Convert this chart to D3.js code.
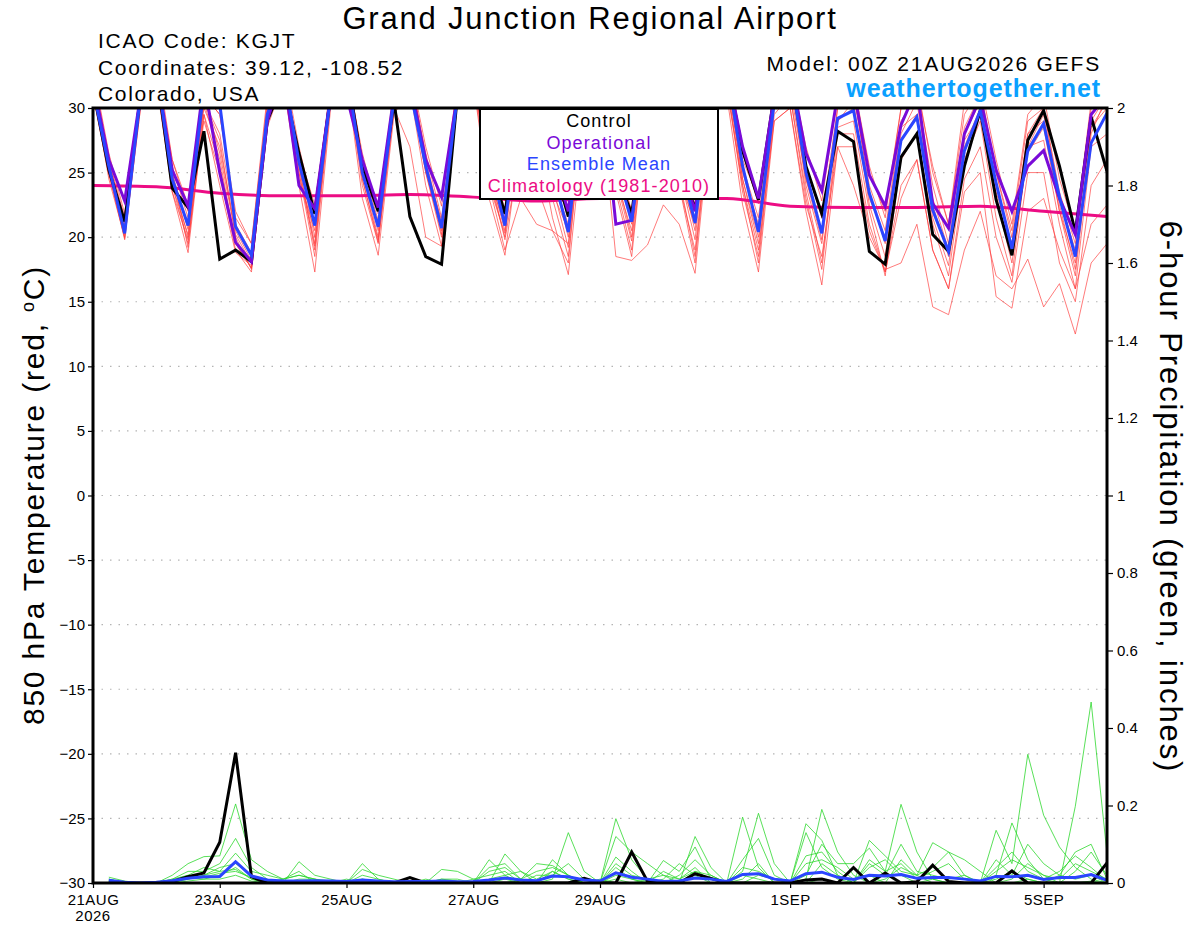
<!DOCTYPE html>
<html>
<head>
<meta charset="utf-8">
<script src="https://cdn.jsdelivr.net/npm/d3@7/dist/d3.min.js"></script>
<style>
  body { margin: 0; background: #fff; }
  svg text { font-family: "Liberation Sans", Arial, Helvetica, sans-serif; }
</style>
</head>
<body>
<svg id="chart"></svg>
<script>
// 6-hourly steps from 00Z 21AUG2026 (index 0) to 00Z 6SEP2026 (index 64)
const dayTickIdx = [0, 8, 16, 24, 32, 44, 52, 60];
const dayTickLabels = ["21AUG", "23AUG", "25AUG", "27AUG", "29AUG", "1SEP", "3SEP", "5SEP"];
const tempTicks = [-30, -25, -20, -15, -10, -5, 0, 5, 10, 15, 20, 25, 30];
const precipTicks = [0, 0.2, 0.4, 0.6, 0.8, 1, 1.2, 1.4, 1.6, 1.8, 2];

// 850 hPa temperature (C), index 0..64
const controlT = [31.5, 25.2, 21.2, 31, 33, 23.8, 22.3, 28.2, 18.3, 19.0, 18.1, 29.0,
  32, 26.5, 21.8, 31, 33, 25.5, 22.0, 30.5, 21.6, 18.5, 17.9, 31,
  33, 26, 21.8, 30.5, 27, 26, 21.6, 32, 33, 25, 21.8, 31,
  33, 26, 22.1, 31, 33, 26.7, 22.9, 31, 33, 25.5, 21.8, 28.2,
  27.4, 18.9, 17.9, 26.2, 28.0, 20.2, 18.9, 25.5, 29.8, 22.9, 18.6, 27.5,
  29.8, 25.5, 20.4, 29.3, 25.1];
const operT = [32, 26, 22.8, 31, 33, 25.2, 22.4, 32, 25, 19.6, 18.1, 29,
  33, 24.0, 22.2, 31, 31, 26, 22.3, 31, 32, 26, 23.1, 31,
  33, 27, 23.5, 31, 28, 26, 22, 32, 33, 21.0, 21.3, 31,
  32, 26, 22, 31, 33, 27, 23, 31, 33, 26.5, 23.6, 31,
  31.5, 24.8, 22.4, 28.7, 31.5, 22.6, 20.7, 28, 30.8, 25.2, 22.0, 25.5,
  26.7, 23.0, 20.2, 29.5, 31];
const meanT = [31.5, 25.5, 20.3, 31, 33, 24.5, 20.9, 31.5, 30.3, 20.8, 18.6, 29.5,
  33, 25.8, 20.9, 31, 33, 25.0, 20.8, 30.8, 31.5, 25.5, 20.7, 31,
  33, 26, 20.9, 31, 27.5, 25, 20.4, 31.5, 33, 25.5, 21.2, 31,
  32, 26, 21.1, 30.5, 33, 25.5, 20.4, 30.5, 33, 25.0, 20.3, 29.2,
  29.8, 23.4, 19.7, 27.5, 29.3, 22.1, 18.9, 26.7, 29.8, 24.2, 19.1, 26.7,
  28.8, 23.1, 18.5, 27.3, 29.6];

// ensemble members (red)
const memberT1 = [32,25,19.8,30.5, 33,24,20.2,30, 27,20.5,18.2,29, 32.5,25.5,19.5,31, 33,24.5,19.8,30, 32,25,20,31, 33,24,20.3,30, 31,24,19.2,31, 33,24.5,20.5,30.5, 32,25,19.8,31, 33,24.5,19.5,30.5, 32.5,24,19.5,29, 30.5,22.5,18.5,27.5, 29.5,21.5,17.8,27, 30,23,18,26.5, 28.5,22,17,28, 31];
const memberT2 = [33,26.5,21.8,31.5, 34,26,22.5,31, 29.5,22,19.5,30.5, 33.5,27,21.8,32, 33,26.5,21.8,31, 33,27,22.4,32, 34,26,22.2,31, 32.5,27,21.8,32, 34,26.5,22,31.5, 33,27,22.3,32, 33.5,26.5,22.6,31.5, 33,27,22.8,31, 32,25.5,21.5,30, 32,25,21,30.5, 32,26,21,29.5, 31,24.5,20.5,30.5, 32];
const memberT3 = [31.5,24.5,20,30, 32,23.5,19.8,29, 25,19,17.3,28.5, 32,24,17.3,30, 32.5,23,18.6,29.5, 31.5,24,19.3,30.5, 32,23,18.6,28, 28,21.5,17.1,29, 31,18.5,18.2,19.4, 22.5,21,17.2,29.5, 31,22.5,17.3,29, 30,22,16.3,27, 27,20.5,17.3,23, 26,19,16,23.5, 25,15.4,14.5,22, 23,19,16,21, 22.5];
const memberT4 = [32.5,25.5,20.5,31, 32.5,25,19.2,30.5, 26,19.5,17.6,29.5, 33,26,20,31, 32,25.5,20.5,30.5, 33,26,21,31.5, 32.5,25,19.8,27, 24,20.5,18,31, 32,24,19,30, 32,24.5,18.5,30, 32,23.5,18.5,30, 31,23,17.5,28, 28,21,17.3,24, 26,19,16,24.5, 27,20,16.5,25, 25,18,15,24, 26];
const memberT5 = [32,26,21,31, 33,25.5,21.5,30.5, 28,21,18.8,30, 32.5,26.5,21,31.5, 33,25.5,21.3,31, 32.5,26.5,21.5,31, 33,25.5,21.5,30.5, 30,24.5,21,31.5, 33,26,21.5,31, 32.5,25.5,21.5,31, 33,25.5,21.5,31, 32,25.5,21.5,30, 31,24,20.5,29, 31,24,19.5,28.5, 31,25,20,28, 30,23,19,29, 31];
const memberT6 = [31,24.8,20.5,30.5, 32.5,23.5,18.8,29.5, 24,18.8,17.8,29, 32,25,18.5,30.5, 32.5,24,19.5,30, 27,20,19.3,30.5, 32,24,19,23, 21,20.5,19.5,30.5, 32.5,23.5,18.5,30, 31.5,24,18,30, 31.5,24,18,29.5, 31,23.5,18,28.5, 29,22,17,26, 28,21,17,26, 29,21.5,17,27, 27.5,21,16,27, 28];
const memberT7 = [32.5,25.8,20.8,31.5, 33.5,24.5,20,30.5, 27.5,20,17.5,30, 33,25.5,19,31, 32.5,25,20,31, 33,25.5,20.2,30.5, 33,25,20.5,30.5, 31.5,25,20,32, 32.5,25,20,31, 33,25.5,20.5,31.5, 32.5,24.5,20,30, 33,24.5,19.8,30, 31.5,23.5,19.5,28, 30.5,22.5,18.5,28, 30.5,24,18.8,27, 29.5,22.5,17.5,28.5, 30.5];
const memberT8 = [31,25.2,20.2,31, 32,25,20.6,31, 26.5,20.2,18,29.5, 32,24.5,20.5,30.5, 33,25,21,31.5, 32.5,25.5,21.3,31, 32.5,24.5,21,31, 30.5,23.5,20.5,31, 33,25.5,21,30.5, 32,24.5,21,30.5, 32.5,25,21,30.5, 31.5,24.5,20.5,29, 30,23,20,28.5, 29.5,23,19,27.5, 29.5,23.5,19.5,28, 29,22,18,28.5, 30];
const memberT9 = [32,25,19.9,30, 32,24,19.5,29.5, 25.5,19.5,17.6,29.5, 32.5,25,19.3,30.5, 32,24.5,19.6,30, 32,25,20.5,30.5, 32.5,24.5,20,29.5, 30,23,18.5,30.5, 32,24.5,19.7,30, 32,24,19,30, 32,24,19,29, 30,22.5,18.5,27, 24,20,17.5,18, 21,14.6,14,19, 22,17,16,18.3, 14.6,16.4,12.5,18, 19.5];
const memberT10 = [33,26,21.5,31.5, 33,26,22,31, 29.5,21.5,19.5,31, 33,26.5,22.5,31.5, 33.5,26,22.2,31.5, 33,26,23,31.5, 33,26,22.8,31, 32,26,22,31.5, 33.5,26,22,31, 33,26.5,22.5,31.5, 33,26,23,31, 33,26.5,23.5,31, 32,25,22,30, 31.5,25.5,21,29.5, 31.5,25,20.5,29, 30,23.5,19.5,30, 31];

// climatology (1981-2010), one value per day at 00Z
const climT = [24.0, 23.9, 23.4, 23.2, 23.2, 23.3, 23.1, 22.8, 23.0, 23.0, 23.0, 22.4, 22.3, 22.3, 22.4, 22.0, 21.6];

// 6-hour precipitation (inches), index 1..64
const controlP = [0, 0, 0, 0, 0.004, 0.016, 0.026, 0.105, 0.336, 0.016, 0, 0, 0, 0, 0, 0,
  0, 0, 0, 0.014, 0, 0, 0, 0, 0, 0, 0, 0, 0, 0, 0.012, 0,
  0, 0.08, 0.004, 0, 0, 0.024, 0.012, 0, 0, 0, 0, 0, 0.008, 0.01, 0, 0.04,
  0, 0.026, 0, 0.003, 0.046, 0.004, 0, 0, 0, 0.031, 0, 0, 0, 0, 0, 0.052];
const meanP = [0.007, 0.002, 0, 0.002, 0.006, 0.012, 0.016, 0.017, 0.055, 0.018, 0.008, 0.005, 0.005, 0.006, 0.005, 0.004,
  0.008, 0.005, 0.003, 0.004, 0.004, 0.005, 0.003, 0.004, 0.008, 0.013, 0.008, 0.006, 0.018, 0.016, 0.008, 0.005,
  0.026, 0.015, 0.01, 0.004, 0.005, 0.013, 0.01, 0.004, 0.022, 0.024, 0.01, 0.005, 0.024, 0.028, 0.015, 0.009,
  0.02, 0.018, 0.022, 0.012, 0.014, 0.014, 0.01, 0.005, 0.017, 0.016, 0.02, 0.009, 0.014, 0.014, 0.022, 0.007];

// ensemble members (green)
const memberP1 = [0.015,0.005,0,0,0.02,0.05,0.068,0.07, 0.204,0.06,0.03,0.01,0.02,0.01,0,0, 0,0,0,0,0,0,0,0, 0.06,0.02,0,0,0.01,0.13,0.03,0, 0.166,0.06,0.01,0,0,0.03,0.01,0, 0,0.02,0.01,0,0.01,0.19,0.08,0.02, 0,0.01,0.04,0.02,0,0,0,0, 0.136,0.05,0.332,0.175,0.093,0.04,0.01,0];
const memberP2 = [0.01,0,0,0,0.01,0.03,0.03,0.05, 0.115,0.04,0.01,0,0.055,0.02,0.01,0, 0.05,0.01,0,0,0,0.035,0.03,0.01, 0,0.075,0.03,0,0.06,0.02,0,0, 0.12,0.08,0.05,0.02,0,0.12,0.04,0, 0.17,0.04,0,0,0.153,0.11,0.02,0, 0.11,0.07,0.03,0.02,0.104,0.08,0.06,0.03, 0,0.01,0.05,0.02,0,0.198,0.467,0.076];
const memberP3 = [0.008,0,0,0,0.005,0.02,0.04,0.03, 0.077,0.03,0.02,0.01,0.03,0,0,0, 0.035,0.02,0.01,0,0,0.01,0.01,0, 0.03,0.04,0.01,0.05,0.045,0.02,0,0, 0.067,0.03,0,0.058,0.03,0.093,0.01,0, 0.03,0.18,0.05,0,0.02,0.1,0.05,0.05, 0.09,0.03,0.203,0.08,0.01,0,0,0, 0.02,0.155,0.06,0.01,0,0.03,0.08,0.02];
const memberP4 = [0.005,0,0,0,0,0.01,0.02,0.04, 0.05,0.02,0.005,0,0.01,0.01,0.005,0, 0.01,0.005,0,0,0.01,0,0,0, 0.01,0.02,0.03,0.01,0.03,0.01,0,0, 0.04,0.01,0,0.01,0.05,0.02,0,0, 0.06,0.115,0.02,0,0.13,0.04,0.01,0, 0.05,0.02,0.1,0.03,0.02,0.01,0.02,0, 0.06,0.02,0.1,0.05,0.02,0.08,0.1,0.01];
const memberP5 = [0.01,0,0,0,0,0.015,0.01,0.02, 0.04,0.01,0,0,0,0,0,0.01, 0,0,0,0,0,0,0,0, 0,0.01,0,0.02,0.02,0.05,0.01,0, 0.02,0.01,0,0,0.02,0.06,0.02,0, 0.01,0.05,0,0,0.05,0.06,0.04,0.01, 0.02,0,0.06,0.02,0.04,0.08,0.02,0, 0.01,0.03,0.01,0,0.02,0.01,0.02,0];
const memberP6 = [0.005,0,0,0,0.01,0.02,0.015,0.025, 0.03,0.015,0.005,0,0.005,0,0,0, 0.02,0.01,0,0,0,0,0,0, 0,0,0.01,0,0,0,0,0.01, 0,0,0.01,0,0,0,0,0, 0,0,0,0,0,0.01,0,0, 0,0,0,0,0,0,0,0, 0,0,0.01,0,0,0,0.005,0];
const memberP7 = [0.004,0,0,0,0,0.005,0.01,0.01, 0.02,0.005,0,0,0,0,0,0, 0,0,0,0,0,0,0,0.01, 0.02,0.03,0,0,0.03,0.01,0,0, 0.01,0,0,0.03,0.01,0.04,0,0, 0.02,0.01,0,0,0,0.05,0.02,0, 0.04,0.06,0.02,0,0.01,0,0,0, 0.03,0.06,0.04,0.02,0.01,0.05,0.03,0.01];
const memberP8 = [0.006,0,0,0,0.005,0.01,0.02,0.03, 0.035,0.01,0,0.01,0.02,0.01,0,0, 0.01,0,0,0,0,0.01,0.005,0, 0.04,0.05,0.01,0.03,0.04,0.02,0,0, 0.05,0.02,0.01,0.02,0.01,0.03,0.02,0, 0.04,0.03,0.01,0,0.07,0.08,0.03,0, 0.06,0.03,0.05,0.01,0.03,0.05,0.01,0, 0.04,0.08,0.03,0.01,0.03,0.07,0.04,0.005];

const membersT = [memberT1, memberT2, memberT3, memberT4, memberT5, memberT6, memberT7, memberT8, memberT9, memberT10];
const membersP = [memberP1, memberP2, memberP3, memberP4, memberP5, memberP6, memberP7, memberP8];

// Set up SVG dimensions
const width = 1200;
const height = 927;
const plot = { left: 93, right: 1107, top: 108, bottom: 883 };

const svg = d3.select("#chart")
    .attr("width", width)
    .attr("height", height);

const x = d3.scaleLinear().domain([0, 64]).range([plot.left, plot.right]);
const yT = d3.scaleLinear().domain([-30, 30]).range([plot.bottom, plot.top]);
const yP = d3.scaleLinear().domain([0, 2]).range([plot.bottom, plot.top]);

svg.append("defs").append("clipPath").attr("id", "plotclip")
  .append("rect")
    .attr("x", plot.left)
    .attr("y", plot.top)
    .attr("width", plot.right - plot.left)
    .attr("height", plot.bottom - plot.top);

// dotted grid at every temperature tick
svg.append("g")
  .selectAll("line")
  .data(tempTicks.slice(1, -1))
  .enter().append("line")
    .attr("x1", plot.left)
    .attr("x2", plot.right)
    .attr("y1", d => yT(d))
    .attr("y2", d => yT(d))
    .attr("stroke", "#b4b4b4")
    .attr("stroke-width", 1.2)
    .attr("stroke-dasharray", "1.5,7");

const lines = svg.append("g").attr("clip-path", "url(#plotclip)");

const lineT = d3.line().x((d, i) => x(i)).y(d => yT(d));
const lineP = d3.line().x((d, i) => x(i + 1)).y(d => yP(d));
const lineClim = d3.line().x((d, i) => x(i * 4)).y(d => yT(d)).curve(d3.curveMonotoneX);

// ensemble members
lines.selectAll(".memT")
  .data(membersT)
  .enter().append("path")
    .attr("class", "memT")
    .attr("d", lineT)
    .attr("fill", "none")
    .attr("stroke", "#ff3b3b")
    .attr("stroke-opacity", 0.85)
    .attr("stroke-width", 0.8);

lines.selectAll(".memP")
  .data(membersP)
  .enter().append("path")
    .attr("class", "memP")
    .attr("d", lineP)
    .attr("fill", "none")
    .attr("stroke", "#2fd82f")
    .attr("stroke-width", 0.8);

// climatology
lines.append("path")
    .attr("d", lineClim(climT))
    .attr("fill", "none")
    .attr("stroke", "#ec0c84")
    .attr("stroke-width", 3);

// precipitation control and mean
lines.append("path")
    .attr("d", lineP(controlP))
    .attr("fill", "none")
    .attr("stroke", "#000")
    .attr("stroke-width", 3);
lines.append("path")
    .attr("d", lineP(meanP))
    .attr("fill", "none")
    .attr("stroke", "#2b45ff")
    .attr("stroke-width", 3);

// temperature control, operational, mean
[[controlT, "#000"], [operT, "#7a0ad8"], [meanT, "#2b45ff"]].forEach(([arr, col]) => {
  lines.append("path")
      .attr("d", lineT(arr))
      .attr("fill", "none")
      .attr("stroke", col)
      .attr("stroke-width", 3)
      .attr("stroke-linejoin", "miter");
});

// axes
const axisLeft = d3.axisLeft(yT).tickValues(tempTicks).tickSize(5).tickPadding(3);
const axisRight = d3.axisRight(yP).tickValues(precipTicks).tickSize(6).tickPadding(4)
    .tickFormat(d => d3.format("~g")(d));
const axisBottom = d3.axisBottom(x).tickValues(dayTickIdx).tickSize(5).tickPadding(6)
    .tickFormat((d, i) => dayTickLabels[i]);

function styleAxis(g) {
  g.select(".domain").remove();
  g.selectAll(".tick line").attr("stroke", "#000").attr("stroke-width", 1.2);
  g.selectAll(".tick text")
    .attr("fill", "#000")
    .style("font-size", "15px");
}

svg.append("g").attr("transform", `translate(${plot.left},0)`).call(axisLeft).call(styleAxis);
svg.append("g").attr("transform", `translate(${plot.right},0)`).call(axisRight).call(styleAxis);
const gx = svg.append("g").attr("transform", `translate(0,${plot.bottom})`).call(axisBottom).call(styleAxis);
gx.selectAll(".tick text").style("font-size", "15px").style("letter-spacing", "0.5px");

svg.append("text")
    .attr("x", x(0))
    .attr("y", 921)
    .attr("text-anchor", "middle")
    .style("font-size", "15px")
    .style("letter-spacing", "0.5px")
    .text("2026");

// plot frame
svg.append("rect")
    .attr("x", plot.left)
    .attr("y", plot.top)
    .attr("width", plot.right - plot.left)
    .attr("height", plot.bottom - plot.top)
    .attr("fill", "none")
    .attr("stroke", "#000")
    .attr("stroke-width", 3);

// legend
const legend = svg.append("g");
legend.append("rect")
    .attr("x", 480)
    .attr("y", 109)
    .attr("width", 238)
    .attr("height", 90)
    .attr("fill", "#fff")
    .attr("stroke", "#000")
    .attr("stroke-width", 2);
const legendItems = [
  ["Control", "#000"],
  ["Operational", "#7a0ad8"],
  ["Ensemble Mean", "#2b45ff"],
  ["Climatology (1981-2010)", "#ec0c84"]
];
legend.selectAll("text")
  .data(legendItems)
  .enter().append("text")
    .attr("x", 599)
    .attr("y", (d, i) => 127 + i * 21.5)
    .attr("text-anchor", "middle")
    .attr("fill", d => d[1])
    .style("font-size", "18px")
    .style("letter-spacing", "1.1px")
    .text(d => d[0]);

// titles and header text
svg.append("text")
    .attr("x", 590)
    .attr("y", 29)
    .attr("text-anchor", "middle")
    .style("font-size", "31px")
    .style("letter-spacing", "1.8px")
    .text("Grand Junction Regional Airport");

const infoLeft = ["ICAO Code: KGJT", "Coordinates: 39.12, -108.52", "Colorado, USA"];
svg.selectAll(".info")
  .data(infoLeft)
  .enter().append("text")
    .attr("class", "info")
    .attr("x", 98)
    .attr("y", (d, i) => 48 + i * 26.5)
    .style("font-size", "21px")
    .style("letter-spacing", "1.7px")
    .text(d => d);

svg.append("text")
    .attr("x", 1101)
    .attr("y", 71)
    .attr("text-anchor", "end")
    .style("font-size", "21px")
    .style("letter-spacing", "1.8px")
    .text("Model: 00Z 21AUG2026 GEFS");

svg.append("text")
    .attr("x", 1101)
    .attr("y", 97)
    .attr("text-anchor", "end")
    .attr("fill", "#0aa0ff")
    .style("font-size", "25px")
    .style("font-weight", "bold")
    .style("letter-spacing", "0.9px")
    .text("weathertogether.net");

// axis titles
const yLabel = svg.append("text")
    .attr("transform", "translate(44,495) rotate(-90)")
    .attr("text-anchor", "middle")
    .style("font-size", "30px")
    .style("letter-spacing", "1.8px");
yLabel.append("tspan").text("850 hPa Temperature (red, ");
yLabel.append("tspan").attr("baseline-shift", "super").style("font-size", "18px").text("o");
yLabel.append("tspan").text("C)");

svg.append("text")
    .attr("transform", "translate(1160,497) rotate(90)")
    .attr("text-anchor", "middle")
    .style("font-size", "31px")
    .style("letter-spacing", "1.9px")
    .text("6-hour Precipitation (green, inches)");
</script>
</body>
</html>
